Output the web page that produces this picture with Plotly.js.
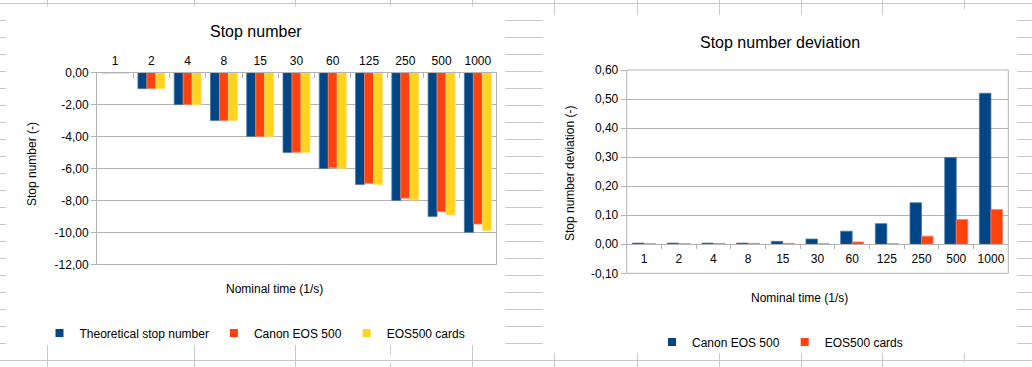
<!DOCTYPE html>
<html><head><meta charset="utf-8">
<script src="https://cdn.plot.ly/plotly-3.0.1.min.js"></script>
<style>html,body{margin:0;padding:0;background:#fff;} #chart{width:1032px;height:367px;}</style>
</head><body><div id="chart"></div>
<script>
// ---------- data ----------
const categories = ['1','2','4','8','15','30','60','125','250','500','1000'];
const theoreticalStop = [0, -1, -2, -3, -4, -5, -6, -7, -8, -9, -10];
const canonStop = [0, -0.996, -1.996, -2.996, -3.99, -4.983, -5.956, -6.93, -7.857, -8.702, -9.48];
const cardsStop = [-0.05, -0.998, -1.997, -2.997, -3.997, -4.998, -5.992, -6.998, -7.972, -8.915, -9.88];
const canonDev = [0.004, 0.004, 0.004, 0.004, 0.01, 0.018, 0.045, 0.071, 0.143, 0.299, 0.52];
const cardsDev = [0.002, 0.002, 0.003, 0.003, 0.003, 0.002, 0.008, 0.002, 0.028, 0.085, 0.12];
const leftYTickVals = [0, -2, -4, -6, -8, -10, -12];
const leftYTickText = ['0,00', '-2,00', '-4,00', '-6,00', '-8,00', '-10,00', '-12,00'];
const rightYTickVals = [0.6, 0.5, 0.4, 0.3, 0.2, 0.1, 0, -0.1];
const rightYTickText = ['0,60', '0,50', '0,40', '0,30', '0,20', '0,10', '0,00', '-0,10'];

// ---------- layout helpers ----------
const W = 1032, H = 367;
const fx = x => x / W;
const fy = y => 1 - y / H;
const FONT = 'Liberation Sans, Arial, sans-serif';
const BLUE = '#004586', ORANGE = '#ff420e', YELLOW = '#ffd320';
const GRID = '#b3b3b3';

const leftDom = {x: [fx(97), fx(496)], y: [fy(264.3), fy(72.7)]};
const rightDom = {x: [fx(626.7), fx(1008.3)], y: [fy(273.3), fy(70)]};
const rightRange = [-0.1, 0.6];
const zeroPos = rightDom.y[0] + (0 - rightRange[0]) / (rightRange[1] - rightRange[0]) * (rightDom.y[1] - rightDom.y[0]);

const lw = 0.248, rw = 0.333;
function bar(name, y, ax, w, off, color, line) {
  return {type: 'bar', name: name, x: categories, y: y, xaxis: ax[0], yaxis: ax[1], width: w, offset: off,
    marker: {color: color, line: {color: line, width: 0.8}}, showlegend: false};
}
function key(name, ax, color, leg) {
  return {type: 'scatter', mode: 'markers', name: name, x: [null], y: [null], xaxis: ax[0], yaxis: ax[1],
    marker: {symbol: 'square', size: 8, color: color}, legend: leg, showlegend: true};
}
const L = ['x', 'y'], R = ['x2', 'y2'];
const traces = [
  bar('Theoretical stop number', theoreticalStop, L, lw, -1.5 * lw, BLUE, '#4f7aa6'),
  bar('Canon EOS 500', canonStop, L, lw, -0.5 * lw, ORANGE, '#ff7b5a'),
  bar('EOS500 cards', cardsStop, L, lw, 0.5 * lw, YELLOW, '#ffe26a'),
  bar('Canon EOS 500', canonDev, R, rw, -rw, BLUE, '#4f7aa6'),
  bar('EOS500 cards', cardsDev, R, rw, 0, ORANGE, '#ff7b5a'),
  key('Theoretical stop number', L, BLUE, 'legend'),
  key('Canon EOS 500', L, ORANGE, 'legend'),
  key('EOS500 cards', L, YELLOW, 'legend'),
  key('Canon EOS 500', R, BLUE, 'legend2'),
  key('EOS500 cards', R, ORANGE, 'legend2')
];

// spreadsheet background grid (decoration)
const shapes = [];
const SG = '#c8c8c8';
function seg(x0, y0, x1, y1, dash) {
  shapes.push({type: 'line', xref: 'paper', yref: 'paper', x0: fx(x0), y0: fy(y0), x1: fx(x1), y1: fy(y1),
    line: {color: SG, width: 1, dash: dash || 'solid'}, layer: 'below'});
}
seg(0, 3.5, W, 3.5); seg(0, 360.5, W, 360.5);
for (let r = 20.5; r < 350; r += 17) { seg(0, r, 6, r); seg(505, r, 543, r); seg(1017, r, W, r); }
[47, 194, 295, 472].forEach(c => { seg(c + 0.5, 0, c + 0.5, 6); seg(c + 0.5, 345, c + 0.5, H); });
seg(390.5, 0, 390.5, 6, 'dash'); seg(390.5, 345, 390.5, H, 'dash');
[554, 637, 719, 801, 882].forEach(c => { seg(c + 0.5, 0, c + 0.5, 15); seg(c + 0.5, 353, c + 0.5, H); });
seg(964.5, 0, 964.5, 15, 'dash'); seg(964.5, 353, 964.5, H, 'dash');
// frame of right plot area
shapes.push({type: 'rect', xref: 'x2 domain', yref: 'y2 domain', x0: 0, x1: 1, y0: 0, y1: 1,
  line: {color: GRID, width: 1}, fillcolor: 'rgba(0,0,0,0)', layer: 'above'});

const tf = {family: FONT, size: 12, color: '#000'};
const annotations = [
  {text: 'Stop number', x: fx(256), y: fy(32), font: {family: FONT, size: 16, color: '#000'}},
  {text: 'Stop number deviation', x: fx(780), y: fy(42), font: {family: FONT, size: 16, color: '#000'}},
  {text: 'Nominal time (1/s)', x: fx(274), y: fy(289), font: tf},
  {text: 'Nominal time (1/s)', x: fx(799), y: fy(298), font: tf},
  {text: 'Stop number (-)', x: fx(32), y: fy(164), textangle: -90, font: tf},
  {text: 'Stop number deviation (-)', x: fx(570), y: fy(174), textangle: -90, font: tf}
].map(a => Object.assign({xref: 'paper', yref: 'paper', showarrow: false, xanchor: 'center', yanchor: 'middle'}, a));

const layout = {
  width: W, height: H,
  margin: {l: 0, r: 0, t: 0, b: 0, pad: 0},
  paper_bgcolor: '#fff', plot_bgcolor: '#fff',
  font: {family: FONT, size: 12, color: '#000'},
  barmode: 'group',
  showlegend: true,
  xaxis: {domain: leftDom.x, anchor: 'y', side: 'top', type: 'category', tickson: 'boundaries',
    ticks: 'inside', ticklen: 5, tickcolor: GRID, showgrid: false, showline: true, mirror: true,
    linecolor: GRID, linewidth: 1, tickfont: tf, ticklabelstandoff: 2, fixedrange: true},
  yaxis: {domain: leftDom.y, anchor: 'x', range: [-12, 0], tickvals: leftYTickVals, ticktext: leftYTickText,
    ticks: 'outside', ticklen: 5, tickcolor: GRID, showgrid: true, gridcolor: GRID, gridwidth: 1,
    zeroline: false, showline: true, mirror: true, linecolor: GRID, tickfont: tf, fixedrange: true},
  xaxis2: {domain: rightDom.x, anchor: 'free', position: zeroPos, side: 'bottom', type: 'category',
    tickson: 'boundaries', ticks: 'outside', ticklen: 4, tickcolor: GRID, showgrid: false,
    showline: true, linecolor: GRID, tickfont: tf, ticklabelstandoff: 3, fixedrange: true},
  yaxis2: {domain: rightDom.y, anchor: 'x2', range: rightRange, tickvals: rightYTickVals, ticktext: rightYTickText,
    ticks: 'outside', ticklen: 5, tickcolor: GRID, showgrid: true, gridcolor: GRID, gridwidth: 1,
    zeroline: false, showline: false, tickfont: tf, fixedrange: true},
  legend: {orientation: 'h', x: fx(255), y: fy(333), xanchor: 'center', yanchor: 'middle',
    font: tf, bgcolor: 'rgba(0,0,0,0)', itemwidth: 30, traceorder: 'normal', itemclick: false},
  legend2: {orientation: 'h', x: fx(780), y: fy(342), xanchor: 'center', yanchor: 'middle',
    font: tf, bgcolor: 'rgba(0,0,0,0)', itemwidth: 30, traceorder: 'normal', itemclick: false},
  shapes: shapes,
  annotations: annotations
};

Plotly.newPlot('chart', traces, layout, {displayModeBar: false, staticPlot: true});
</script>
</body></html>
